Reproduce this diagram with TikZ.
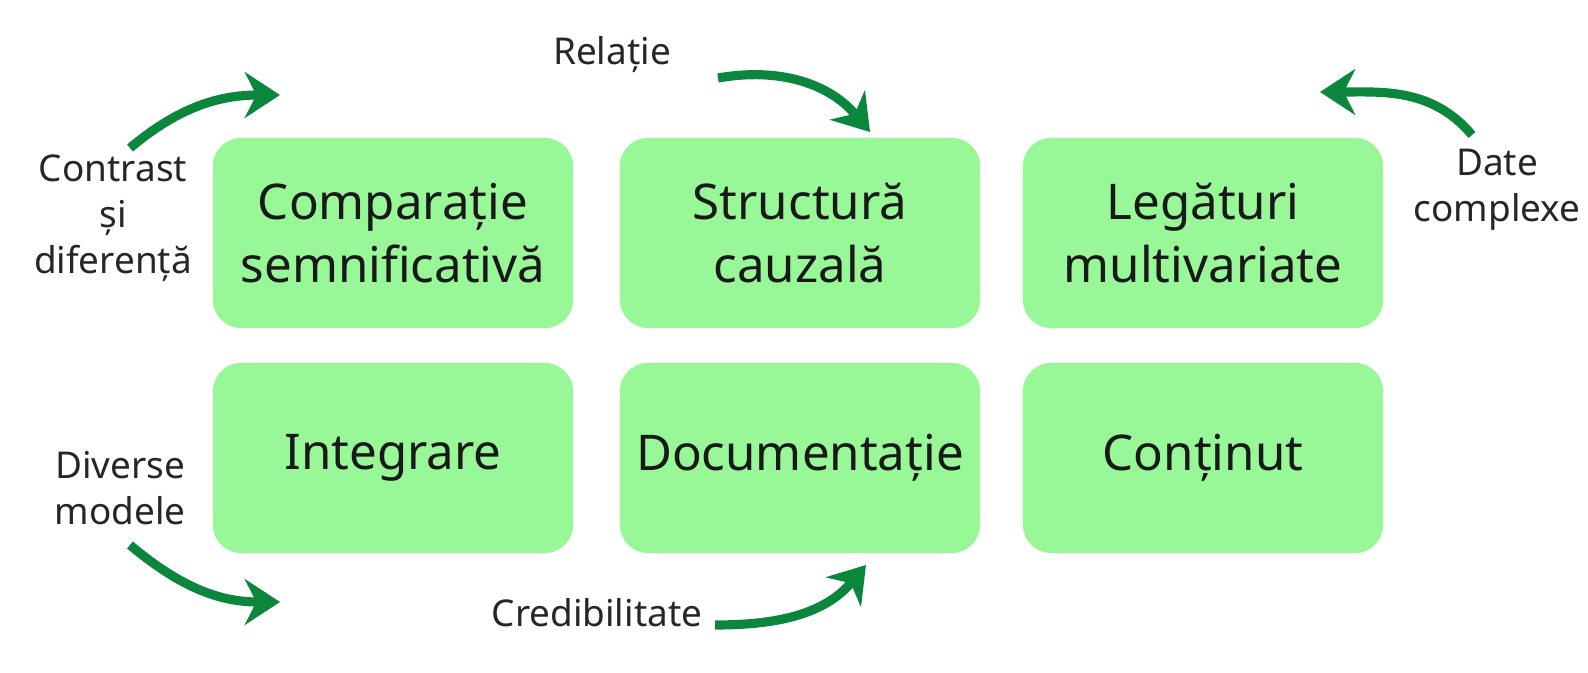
\documentclass[tikz,border=0pt]{standalone}
\usepackage{fontspec}
\setmainfont{Noto Sans}
\usetikzlibrary{arrows.meta}
\begin{document}
\begin{tikzpicture}[x=0.01cm,y=-0.01cm,
    box/.style={fill=boxgreen,rounded corners=8pt,minimum width=3.6cm,minimum height=1.9cm,
      align=center,font=\fontsize{14}{18}\selectfont,text=black!90},
    lbl/.style={align=center,font=\fontsize{10.5}{13}\selectfont,text=black!85},
    flow/.style={draw=arrowgreen,line width=2.6pt,-{Stealth[length=10pt,width=13pt]}}]
    % colores
    \definecolor{boxgreen}{RGB}{152,248,152}
    \definecolor{arrowgreen}{RGB}{10,135,60}
    \useasboundingbox (0,0) rectangle (1588,672);

    % cajas
    \node[box] (comp) at (393,233) {Comparație\\semnificativă};
    \node[box] (struct) at (800,233) {Structură\\cauzală};
    \node[box] (leg) at (1203,233) {Legături\\multivariate};
    \node[box] (integ) at (393,458) {Integrare};
    \node[box] (doc) at (800,458) {Documentație};
    \node[box] (cont) at (1203,458) {Conținut};

    % etiquetas
    \node[lbl] (contrast) at (113,218) {Contrast\\și\\diferență};
    \node[lbl] (relatie) at (612,55) {Relație};
    \node[lbl] (date) at (1497,190) {Date\\complexe};
    \node[lbl] (diverse) at (120,488) {Diverse\\modele};
    \node[lbl] (cred) at (597,613) {Credibilitate};

    % flechas
    \coordinate (a1) at (130,148); \coordinate (b1) at (280,95);
    \coordinate (a2) at (718,78);  \coordinate (b2) at (870,132);
    \coordinate (a3) at (1472,135); \coordinate (b3) at (1320,92);
    \coordinate (a4) at (130,545); \coordinate (b4) at (280,602);
    \coordinate (a5) at (715,625); \coordinate (b5) at (866,565);
    \draw[flow] (a1) to[out=40,in=180] (b1);
    \draw[flow] (a2) to[out=10,in=130] (b2);
    \draw[flow] (a3) to[out=130,in=0] (b3);
    \draw[flow] (a4) to[out=-40,in=180] (b4);
    \draw[flow] (a5) to[out=0,in=230] (b5);
\end{tikzpicture}
\end{document}
